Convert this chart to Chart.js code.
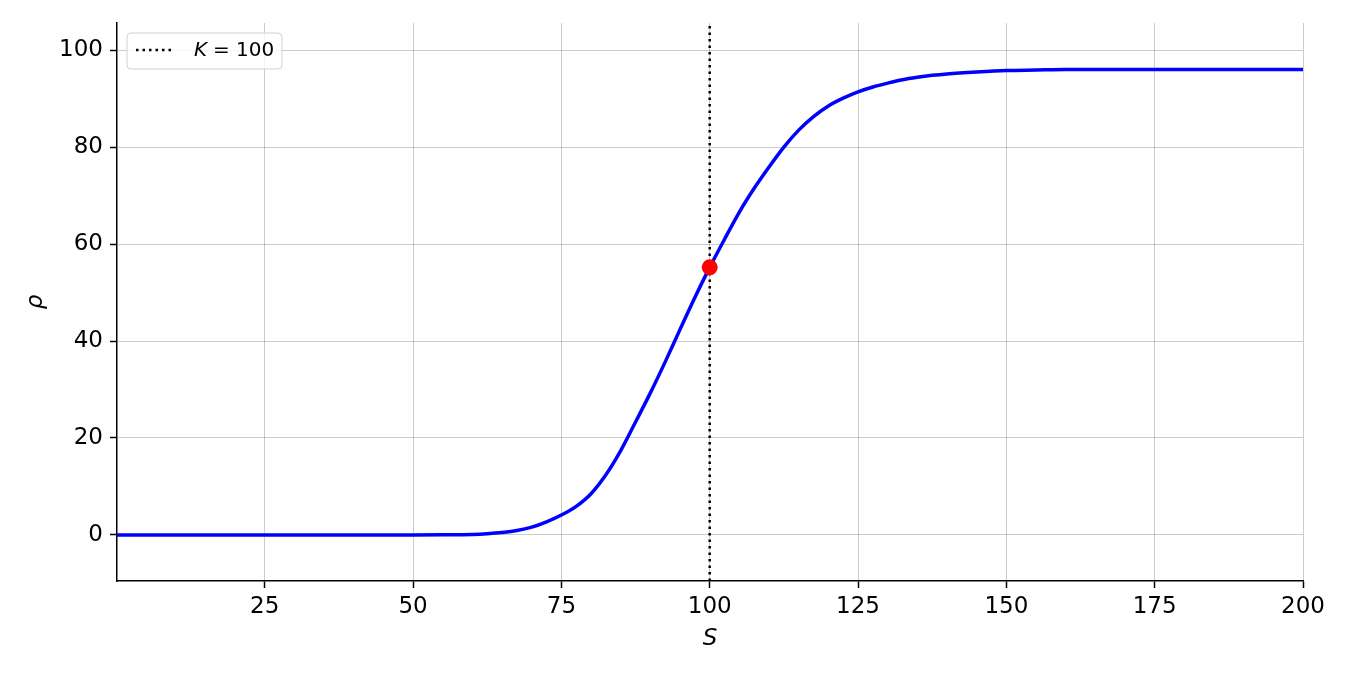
<!DOCTYPE html>
<html>
<head>
<meta charset="utf-8">
<script src="https://cdn.jsdelivr.net/npm/chart.js@4.4.1/dist/chart.umd.min.js"></script>
<style>
  html, body { margin: 0; padding: 0; background: #fff; }
</style>
</head>
<body>
<canvas id="grafico" width="1350" height="675"></canvas>
<script>
// datos
var sValues = [0, 5, 10, 15, 20, 25, 30, 35, 40, 45, 50, 55, 60, 62.5, 65, 67.5, 70, 72.5, 75,
               77.5, 80, 82.5, 85, 87.5, 90, 92.5, 95, 97.5, 100, 102.5, 105, 107.5, 110,
               112.5, 115, 117.5, 120, 122.5, 125, 127.5, 130, 132.5, 135, 137.5, 140, 145,
               150, 155, 160, 165, 170, 175, 180, 185, 190, 195, 200];
var rhoValues = [0, 0, 0, 0, 0, 0, 0, 0, 0, 0, 0, 0.02, 0.1, 0.25, 0.5, 0.9, 1.6, 2.7, 4.1,
                 5.9, 8.5, 12.4, 17.4, 23.3, 29.3, 35.7, 42.4, 49.0, 55.2, 61.0, 66.6, 71.5, 75.9,
                 80.0, 83.5, 86.3, 88.5, 90.1, 91.4, 92.4, 93.2, 93.9, 94.4, 94.8, 95.1, 95.5,
                 95.8, 95.9, 96.0, 96.0, 96.0, 96.0, 96.0, 96.0, 96.0, 96.0, 96.0];
var kValue = 100;
var rhoAtK = 55.2;
var xTicks = [25, 50, 75, 100, 125, 150, 175, 200];
var yTicks = [0, 20, 40, 60, 80, 100];
var xRange = [0.1, 200];
var yRange = [-9.5, 105.6];

var ctx = document.getElementById('grafico').getContext('2d');

var curva = sValues.map(function (s, i) { return { x: s, y: rhoValues[i] }; });

// leyenda y titulos de ejes dibujados a mano
var extras = {
    id: 'extras',
    afterDraw: function (chart) {
        var c = chart.ctx, area = chart.chartArea;
        c.save();
        c.fillStyle = '#000';
        c.textAlign = 'center';
        c.textBaseline = 'middle';
        c.font = 'italic 23px "DejaVu Sans"';
        c.fillText('S', (area.left + area.right) / 2, 639);
        c.translate(36, (area.top + area.bottom) / 2);
        c.rotate(-Math.PI / 2);
        c.fillText('\u03C1', 0, 0);
        c.restore();

        // caja de la leyenda
        var x0 = area.left + 10, y0 = area.top + 10, w = 155, h = 36, r = 4;
        c.save();
        c.beginPath();
        c.moveTo(x0 + r, y0);
        c.lineTo(x0 + w - r, y0);
        c.quadraticCurveTo(x0 + w, y0, x0 + w, y0 + r);
        c.lineTo(x0 + w, y0 + h - r);
        c.quadraticCurveTo(x0 + w, y0 + h, x0 + w - r, y0 + h);
        c.lineTo(x0 + r, y0 + h);
        c.quadraticCurveTo(x0, y0 + h, x0, y0 + h - r);
        c.lineTo(x0, y0 + r);
        c.quadraticCurveTo(x0, y0, x0 + r, y0);
        c.closePath();
        c.fillStyle = 'rgba(255,255,255,0.8)';
        c.fill();
        c.strokeStyle = '#d0d0d0';
        c.lineWidth = 1;
        c.stroke();

        c.beginPath();
        c.setLineDash([2.5, 4]);
        c.strokeStyle = '#000';
        c.lineWidth = 2.5;
        c.moveTo(x0 + 9, y0 + 17);
        c.lineTo(x0 + 47, y0 + 17);
        c.stroke();
        c.setLineDash([]);

        c.fillStyle = '#000';
        c.textAlign = 'left';
        c.textBaseline = 'middle';
        c.font = 'italic 20px "DejaVu Sans"';
        c.fillText('K', x0 + 67, y0 + 18);
        c.font = '20px "DejaVu Sans"';
        c.fillText('= ' + kValue, x0 + 86, y0 + 18);
        c.restore();
    }
};

var gridColor = 'rgba(0,0,0,0.2)';
var tickFont = { family: 'DejaVu Sans', size: 23 };

var miGrafico = new Chart(ctx, {
    type: 'line',
    data: {
        datasets: [{
            label: 'punto',
            data: [{ x: kValue, y: rhoAtK }],
            showLine: false,
            pointRadius: 8,
            pointBackgroundColor: '#ff0000',
            pointBorderColor: '#ff0000',
            pointBorderWidth: 0
        }, {
            label: 'K = 100',
            data: [{ x: kValue, y: yRange[0] }, { x: kValue, y: yRange[1] }],
            borderColor: '#000',
            borderWidth: 2.5,
            borderDash: [2.5, 4],
            pointRadius: 0,
            fill: false
        }, {
            label: 'rho',
            data: curva,
            borderColor: '#0000ff',
            borderWidth: 3.5,
            pointRadius: 0,
            cubicInterpolationMode: 'monotone',
            fill: false
        }]
    },
    options: {
        responsive: false,
        animation: false,
        devicePixelRatio: 1,
        layout: { padding: { left: 0, top: 23, right: 47, bottom: 0 } },
        plugins: {
            legend: { display: false },
            tooltip: { enabled: false }
        },
        scales: {
            x: {
                type: 'linear',
                min: xRange[0],
                max: xRange[1],
                afterBuildTicks: function (scale) {
                    scale.ticks = xTicks.map(function (v) { return { value: v }; });
                },
                afterFit: function (scale) { scale.height = 94; },
                grid: { color: gridColor, lineWidth: 1, tickColor: '#000', tickLength: 7, tickWidth: 1.5 },
                border: { color: '#000', width: 1.5 },
                ticks: { color: '#000', font: tickFont, padding: 5, maxRotation: 0 }
            },
            y: {
                type: 'linear',
                min: yRange[0],
                max: yRange[1],
                afterBuildTicks: function (scale) {
                    scale.ticks = yTicks.map(function (v) { return { value: v }; });
                },
                afterFit: function (scale) { scale.width = 117; },
                grid: { color: gridColor, lineWidth: 1, tickColor: '#000', tickLength: 7, tickWidth: 1.5 },
                border: { color: '#000', width: 1.5 },
                ticks: { color: '#000', font: tickFont, padding: 7 }
            }
        }
    },
    plugins: [extras]
});
</script>
</body>
</html>
